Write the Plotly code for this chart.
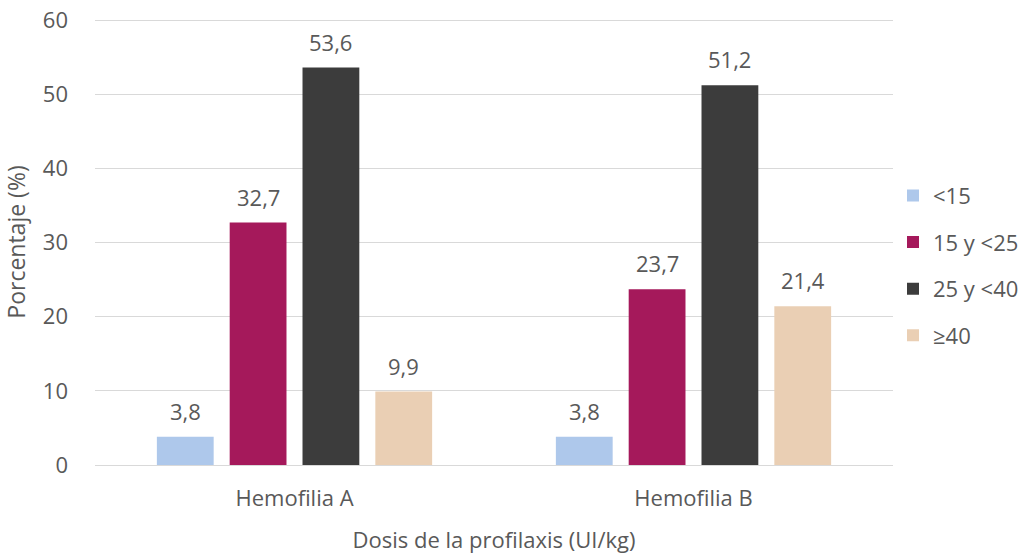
import plotly.graph_objects as go

categories = ["Hemofilia A", "Hemofilia B"]
series_names = ["<15", "15 y <25", "25 y <40", "≥40"]
values = [
    [3.8, 3.8],
    [32.7, 23.7],
    [53.6, 51.2],
    [9.9, 21.4],
]
colors = ["#AEC8EB", "#A5195B", "#3C3C3C", "#EACFB4"]
y_ticks = [0, 10, 20, 30, 40, 50, 60]

font_family = "Open Sans, Noto Sans, sans-serif"
text_color = "#595959"
FS = 22

ML, MT = 95, 19
PLOT_W, PLOT_H = 798, 446
MR = 1033 - ML - PLOT_W
MB = 554 - MT - PLOT_H

bargap = 0.27
slot_px = PLOT_W / len(categories) * (1 - bargap) / len(series_names)

fig = go.Figure()
for i, (name, vals, col) in enumerate(zip(series_names, values, colors)):
    fig.add_trace(go.Bar(
        x=categories, y=vals, name=name, marker_color=col,
        marker_line_width=0, legendgroup=name,
    ))
    for c, v in zip(categories, vals):
        fig.add_annotation(
            x=c, y=v, xref="x", yref="y",
            text=f"{v:.1f}".replace(".", ","),
            showarrow=False, yanchor="bottom",
            xshift=(i - (len(series_names) - 1) / 2) * slot_px,
            yshift=9,
            font=dict(size=FS, color=text_color, family=font_family),
        )

fig.update_layout(
    width=1033, height=554,
    barmode="group", bargap=bargap, bargroupgap=0.22,
    plot_bgcolor="white", paper_bgcolor="white",
    margin=dict(l=ML, r=MR, t=MT, b=MB, autoexpand=False),
    font=dict(family=font_family, color=text_color, size=FS),
    legend=dict(x=1.0, y=0.447, yanchor="middle", xanchor="left",
                font=dict(size=FS, color=text_color), tracegroupgap=15,
                itemwidth=30),
    showlegend=True,
)
fig.update_yaxes(range=[0, 60.15], tickvals=y_ticks, showgrid=True, gridcolor="#D9D9D9",
                 gridwidth=1, zeroline=False, showline=False, ticks="",
                 automargin=False, ticklabelstandoff=26,
                 tickfont=dict(size=FS),
                 title=dict(text="Porcentaje (%)", font=dict(size=23), standoff=26))
fig.update_xaxes(showline=True, linecolor="#D9D9D9", linewidth=1, ticks="",
                 automargin=False, ticklabelstandoff=14,
                 tickfont=dict(size=FS),
                 title=dict(text="Dosis de la profilaxis (UI/kg)", font=dict(size=FS), standoff=21))

fig.write_html("out.html", config={"displayModeBar": False},
               post_script="document.body.style.margin='0';")
